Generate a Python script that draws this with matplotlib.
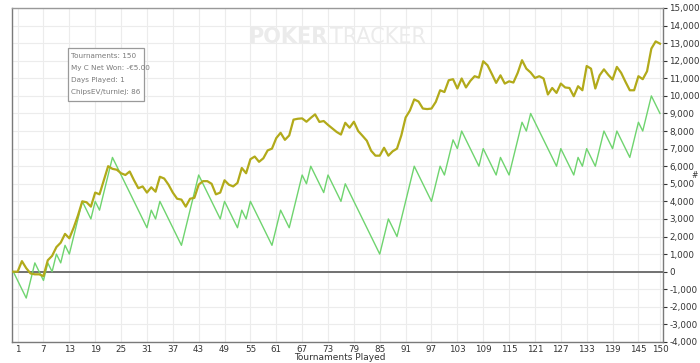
import numpy as np
import matplotlib
matplotlib.use("Agg")
import matplotlib.pyplot as plt
import matplotlib.ticker as mticker
from matplotlib.patches import Rectangle

# ── Data ────────────────────────────────────────────────────
# Net won (turning points of the zig-zag line)
net_x = [0, 3, 5, 7, 8, 9, 10, 11, 12, 13, 16, 18, 19, 20, 23, 31, 32, 33, 34,
         39, 43, 48, 49, 52, 53, 54, 55, 60, 62, 64, 67, 68, 69, 72, 73, 76,
         77, 85, 87, 89, 93, 97, 99, 100, 102, 103, 104, 108, 109, 112, 113,
         115, 118, 119, 120, 126, 127, 130, 131, 132, 133, 135, 137, 139, 140,
         143, 145, 146, 148, 150]
net_y = [0, -1500, 500, -500, 500, 0, 1000, 500, 1500, 1000, 4000, 3000, 4000,
         3500, 6500, 2500, 3500, 3000, 4000, 1500, 5500, 3000, 4000, 2500, 3500,
         3000, 4000, 1500, 3500, 2500, 5500, 5000, 6000, 4500, 5500, 4000, 5000,
         1000, 3000, 2000, 6000, 4000, 6000, 5500, 7500, 7000, 8000, 6000, 7000,
         5500, 6500, 5500, 8500, 8000, 9000, 6000, 7000, 5500, 6500, 6000, 7000,
         6000, 8000, 7000, 8000, 6500, 8500, 8000, 10000, 9000]

# Chips EV (one value per tournament)
ev_y = [0, 0, 600, 200, -100, -150, -150, -250, 650, 900,
        1400, 1650, 2150, 1900, 2500, 3200, 4000, 3950, 3700, 4500,
        4400, 5200, 6000, 5850, 5800, 5600, 5500, 5700, 5200, 4750,
        4850, 4500, 4800, 4550, 5400, 5300, 4950, 4500, 4150, 4100,
        3700, 4150, 4200, 4950, 5150, 5150, 5000, 4400, 4500, 5200,
        4950, 4850, 5050, 5900, 5600, 6400, 6550, 6250, 6450, 6900,
        7000, 7600, 7900, 7500, 7750, 8650, 8700, 8720, 8530, 8750,
        8950, 8520, 8570, 8350, 8150, 7950, 7800, 8470, 8190, 8530,
        8000, 7730, 7450, 6880, 6600, 6600, 7050, 6600, 6850, 7000,
        7750, 8770, 9170, 9800, 9680, 9280, 9250, 9280, 9660, 10320,
        10220, 10890, 10950, 10420, 10990, 10480, 10850, 11120, 11040, 11970,
        11740, 11250, 10740, 11170, 10700, 10830, 10760, 11310, 12030, 11550,
        11330, 11020, 11120, 10990, 10080, 10450, 10170, 10700, 10480, 10450,
        9980, 10550, 10320, 11700, 11550, 10420, 11170, 11510, 11200, 10930,
        11650, 11310, 10800, 10320, 10320, 11120, 10950, 11400, 12690, 13100,
        12970]
ev_x = list(range(len(ev_y)))

x_ticks = [1, 7, 13, 19, 25, 31, 37, 43, 49, 55, 61, 67, 73, 79, 85, 91, 97,
           103, 109, 115, 121, 127, 133, 139, 145, 150]
info_lines = ["Tournaments: 150", "My C Net Won: -\u20ac5.00",
              "Days Played: 1", "ChipsEV/turniej: 86"]

STYLE = {
    "ev":    "#b2aa1a",
    "net":   "#6fd46f",
    "grid":  "#ececec",
    "spine": "#7a7a7a",
    "text":  "#333333",
}

fig = plt.figure(figsize=(7.0, 3.63), dpi=100, facecolor="white")
ax = fig.add_axes([12 / 700, 21 / 363, 651 / 700, 334 / 363])

ax.plot(net_x, net_y, color=STYLE["net"], lw=1.0, zorder=3)
ax.plot(ev_x, ev_y, color=STYLE["ev"], lw=1.6, zorder=4)
ax.axhline(0, color="#666666", lw=1.3, zorder=2)

ax.set_xlim(-0.3, 150.7)
ax.set_ylim(-4000, 15000)
ax.set_xticks(x_ticks)
ax.yaxis.set_major_locator(mticker.MultipleLocator(1000))
ax.yaxis.set_major_formatter(mticker.FuncFormatter(lambda v, p: f"{v:,.0f}"))
ax.yaxis.tick_right()
ax.tick_params(axis="both", labelsize=6.3, colors=STYLE["text"], length=3,
               width=0.8, pad=1.5)
ax.tick_params(axis="x", length=0, pad=2)
ax.grid(True, color=STYLE["grid"], linewidth=0.8, zorder=0)

for side in ["left", "right", "bottom", "top"]:
    ax.spines[side].set_color(STYLE["spine"])
    ax.spines[side].set_linewidth(1.0)
ax.spines["top"].set_color("#999999")

fig.text(340 / 700, 1 - 357 / 363, "Tournaments Played", fontsize=6.5,
         color=STYLE["text"], ha="center", va="center")
fig.text(695 / 700, 1 - 176 / 363, "#", fontsize=5.5, color=STYLE["text"],
         ha="center", va="center")

# Watermark
fig.text(248 / 700, 1 - 37 / 363, "POKER", fontsize=15, fontweight="bold",
         color="#ebebeb", ha="left", va="center", zorder=1)
fig.text(330 / 700, 1 - 37 / 363, "TRACKER", fontsize=15, color="#ebebeb",
         ha="left", va="center", zorder=1)

# Info box
box = Rectangle((68 / 700, 1 - 101 / 363), 76 / 700, 53 / 363,
                transform=fig.transFigure, facecolor="white",
                edgecolor="#9a9a9a", lw=0.9, zorder=5)
fig.patches.append(box)
for i, line in enumerate(info_lines):
    fig.text(71 / 700, 1 - (56 + 12 * i) / 363, line, fontsize=5.2,
             color="#7a7a7a", ha="left", va="center", zorder=6)

plt.savefig("out.png", dpi=100, facecolor="white")
plt.close()
